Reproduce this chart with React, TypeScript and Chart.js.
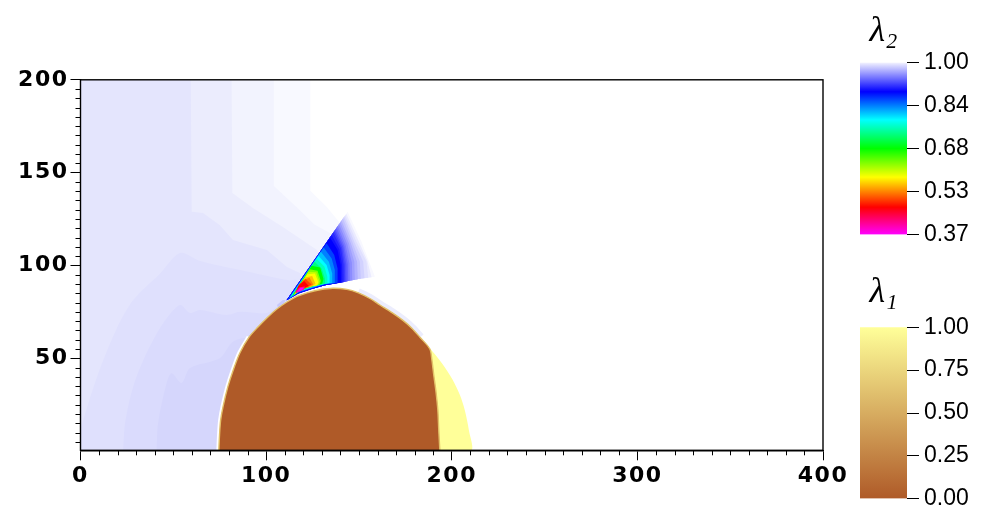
import React, { useEffect, useRef } from "react";
import { Chart, registerables } from "chart.js";

Chart.register(...registerables);

type P = [number, number];

const xMajorTicks = [0, 100, 200, 300, 400];
const xMinorTicks = [10, 20, 30, 40, 50, 60, 70, 80, 90, 110, 120, 130, 140, 150, 160, 170, 180, 190, 210, 220, 230, 240, 250, 260, 270, 280, 290, 310, 320, 330, 340, 350, 360, 370, 380, 390];
const yMajorTicks = [50, 100, 150, 200];
const yMinorTicks = [5, 10, 15, 20, 25, 30, 35, 40, 45, 55, 60, 65, 70, 75, 80, 85, 90, 95, 105, 110, 115, 120, 125, 130, 135, 140, 145, 155, 160, 165, 170, 175, 180, 185, 190, 195];

const bandA: P[] = [[0, 200], [123.8, 200], [123.8, 140.2], [132.6, 131.6], [139.8, 122.8], [132, 100], [130, 86], [100, 70], [74, 0], [0, 0]];
const bandB: P[] = [[0, 200], [104.2, 200], [104.2, 142.8], [118.2, 129.8], [126, 122], [137, 116], [130, 95], [100, 70], [74, 0], [0, 0]];
const bandC: P[] = [[0, 200], [81.4, 200], [81.8, 139], [92.9, 130.9], [109, 120.7], [127.4, 108.3], [131, 104], [125, 90], [100, 70], [74, 0], [0, 0]];
const bandD: P[] = [[0, 200], [59.4, 200], [59.9, 128.9], [66, 128.2], [75.1, 121.7], [82.1, 113.7], [100.4, 108.3], [111.2, 99.1], [118.2, 95.9], [120, 88], [100, 70], [74, 0], [0, 0]];
const bandE: P[] = [[0, 12], [8.7, 39.4], [19.5, 66], [28.3, 81.2], [43, 95.8], [53.6, 106.7], [64.4, 102.4], [86, 97.5], [112, 92], [117, 92], [118, 86], [100, 70], [74, 0], [0, 0]];
const bandF: P[] = [[23, 0], [24, 15], [28.4, 34.7], [35.6, 52.8], [44.6, 69], [53.6, 78.7], [59, 74.4], [64.4, 76], [78.7, 73.3], [86, 75], [100.3, 74.4], [109, 79.8], [112, 78], [100, 68], [74, 0]];
const bandG: P[] = [[41, 0], [41.8, 15], [46.4, 36.7], [49.1, 42], [54.5, 36.7], [59, 44.7], [75, 50], [82.1, 58.9], [90, 60], [76, 0]];
const apexTint: P[] = [[105.8, 78.7], [109, 81.4], [110.6, 81.4], [109.5, 79.2], [106.8, 76.5]];
const bandColors = ["#F8F9FF", "#F2F3FE", "#EBECFD", "#E4E5FD", "#DFE0FD", "#DADBFD", "#D5D6FC", "#C8C8FC"];

const bodyOutline: P[] = [[74.5, 0], [74.9, 8.7], [75.5, 16.7], [76.8, 24], [79.4, 34.7], [82.3, 43.7], [85.9, 53], [90.8, 61.4], [95.6, 66.8], [100.4, 71.7], [105.8, 76.5], [111.2, 80.3], [116.6, 83.3], [122.5, 85.4], [129, 86.9], [136, 87.7], [143.5, 87.1], [149.4, 85.4], [155.9, 82.2], [161.3, 78.7], [167.8, 74.6], [173.7, 70.4], [178.5, 66.2], [183, 61.2], [188.2, 55], [189.3, 49.1], [190.3, 41], [191.4, 32.9], [192.5, 22.1], [193, 11.4], [193.6, 0]];
const capOutline: P[] = [[188.2, 55.5], [194.7, 47.3], [200.4, 38.6], [204.4, 30.2], [207, 22.1], [209.2, 11.4], [210.3, 0], [190, 0], [189, 45]];
const whiteHalo: P[] = [[74.5, 0], [74.9, 8.7], [75.5, 16.7], [76.8, 24], [79.4, 34.7], [82.3, 43.7], [85.9, 53], [90.8, 61.4]];
const tintHalo: P[] = [[149.4, 85.4], [155.9, 82.2], [161.3, 78.7], [167.8, 74.6], [173.7, 70.4], [178.5, 66.2], [183, 61.2]];

const fanChain0: P[] = [[149.6, 92.7], [140.6, 90.9], [131.7, 89.4], [124.5, 87.3], [117.3, 84.9], [111, 81.3]];
const fanChain1: P[] = [[140.6, 90.9], [131.7, 89.4], [124.5, 87.3], [117.3, 84.9], [111, 81.3]];
const fanChain2: P[] = [[131.7, 89.4], [124.5, 87.3], [117.3, 84.9], [111, 81.3]];
const fan01: P[] = [[143.9, 128.9], [151.4, 112.8], [155, 103.4], [158.6, 93.9], ...fanChain0];
const fan01b: P[] = [[143.2, 127.9], [150, 112.8], [154.5, 102.7], [156.8, 93.7], ...fanChain0];
const fan02: P[] = [[142.6, 127.1], [148.7, 112.8], [154.1, 102], [155, 93.4], ...fanChain0];
const fan02b: P[] = [[142, 126.2], [147.5, 112.8], [152.3, 102], [153, 93.2], ...fanChain0];
const fan03: P[] = [[141.4, 125.3], [146.4, 112.8], [150.5, 102], [151, 92.9], ...fanChain0];
const fan03b: P[] = [[140.6, 124.2], [145.5, 112.3], [149, 102], [149.4, 92.6], ...fanChain1];
const fan04: P[] = [[140, 123.2], [144.6, 111.9], [147.5, 102], [147.8, 92.3], ...fanChain1];
const fan04b: P[] = [[139.3, 122.2], [143.7, 111.5], [146.2, 101.5], [146.4, 92.1], ...fanChain1];
const fan05: P[] = [[138.6, 121.2], [142.8, 111], [144.9, 101.1], [145.1, 91.8], ...fanChain1];
const fan05b: P[] = [[138, 120.3], [142.1, 110.5], [144, 100.6], [144.2, 91.6], ...fanChain1];
const fan06: P[] = [[137.3, 119.4], [141.5, 110.1], [143.2, 100.2], [143.3, 91.4], ...fanChain1];
const fan06b: P[] = [[136.8, 118.6], [140.9, 109.6], [142.4, 100.2], [142.6, 91.2], ...fanChain1];
const fan07: P[] = [[136.2, 117.8], [140.3, 109.2], [141.7, 100.2], [141.9, 91], ...fanChain2];
const fan07b: P[] = [[135.3, 116.4], [139.4, 108.7], [140.9, 100.2], [141.1, 90.9], ...fanChain2];
const fan08: P[] = [[134.4, 115.1], [138.5, 108.3], [140.1, 100.2], [140.3, 90.8], ...fanChain2];
const fan09: P[] = [[132.6, 111.9], [136.7, 105.6], [138.5, 98.4], [138.5, 90.7], [131.7, 89.8], [124.5, 87.6], [117.3, 85.3], [111.6, 81.7]];
const fan10: P[] = [[131, 109.7], [135.3, 103.8], [137, 97.5], [137, 90.5], [131.7, 90], [124.5, 87.8], [117.3, 85.5], [112.1, 82.1]];
const fan11: P[] = [[129.5, 107.4], [133.8, 102], [135.6, 95.7], [135.6, 90.5], [131.7, 90.1], [124.5, 88], [117.7, 85.8], [112.6, 82.4]];
const fan12: P[] = [[128.2, 105.2], [132.6, 100.2], [134.2, 94.8], [134.2, 90.5], [131.7, 90.2], [124.5, 88.3], [117.7, 86.2], [113.2, 83]];
const fan12b: P[] = [[127.3, 103.5], [131.4, 99.5], [133, 93.9], [133, 90.4], [124.5, 88.4], [118, 86.4], [113.5, 83.2]];
const fan13: P[] = [[126.1, 102], [129.9, 98.4], [131.7, 93], [131.7, 90.3], [124.5, 88.5], [118.2, 86.5], [113.7, 83.3]];
const fan14: P[] = [[124.5, 99.8], [129.1, 98.9], [130.9, 92.7], [130.2, 90.1], [124.5, 88.7], [118.2, 86.7], [114.2, 83.7]];
const fan15: P[] = [[123.4, 97.9], [127.7, 97.1], [129.5, 91.6], [128.8, 89.8], [124.5, 88.9], [118.7, 87.1], [114.8, 84]];
const fan15b: P[] = [[122.8, 96.6], [127, 96.4], [128.8, 91.3], [128, 89.5], [123.5, 88.8], [118.7, 87.2], [115, 84.2]];
const fan16: P[] = [[122.2, 95.3], [126.3, 95.7], [128.1, 90.9], [127.4, 89.2], [122.7, 88.7], [118.7, 87.3], [115.3, 84.4]];
const fan17: P[] = [[121.1, 93.5], [124.8, 94.3], [126.6, 90.1], [124.8, 88.7], [118.7, 87.4], [115.5, 84.8]];
const fan18: P[] = [[120, 92.1], [123.4, 93.4], [125.4, 89.8], [122.3, 88], [118.7, 87.6], [115.7, 85]];
const fan19: P[] = [[117.7, 89.8], [121.3, 92.7], [124.5, 89.8], [120.5, 87.4], [115.9, 85.1]];
const fan20: P[] = [[117.3, 88.9], [120.5, 91.6], [123, 88.9], [119.1, 87.3], [115.9, 85.3]];
const fan21: P[] = [[115.5, 85.5], [118, 88.3], [120.9, 88.7], [120.2, 86.9], [116.9, 85.5]];
const fan22: P[] = [[116.6, 86], [118.4, 87.8], [120.2, 88], [119.5, 86.9], [117.3, 85.8]];
const fanContours = [fan01, fan01b, fan02, fan02b, fan03, fan03b, fan04, fan04b, fan05, fan05b, fan06, fan06b, fan07, fan07b, fan08, fan09, fan10, fan11, fan12, fan12b, fan13, fan14, fan15, fan15b, fan16, fan17, fan18, fan19, fan20, fan21, fan22];
const fanColors = ["#F8F8FF", "#EBEBFF", "#E0E0FF", "#D2D2FF", "#C4C4FF", "#B2B2FF", "#A0A0FF", "#8C8CFF", "#7878FF", "#6464FF", "#5050FF", "#3C3CFF", "#2828FF", "#1414FF", "#0000FF", "#0040FF", "#0080FF", "#00C0FF", "#00FFFF", "#00FFC0", "#00FF80", "#00FF00", "#80FF00", "#C0FF00", "#FFFF00", "#FFC000", "#FF8000", "#FF4000", "#FF0000", "#FF00A0", "#FF00FF"];

const lambda2Ticks = [1.0, 0.8425, 0.685, 0.5275, 0.37];
const lambda2Labels = ["1.00", "0.84", "0.68", "0.53", "0.37"];
const lambda2Stops = [1.0, 0.893, 0.79, 0.685, 0.58, 0.47, 0.37];
const lambda2Colors = ["#F2F2FF", "#0000FF", "#00FFFF", "#00FF00", "#FFFF00", "#FF0000", "#FF00FF"];
const lambda1Ticks = [1.0, 0.75, 0.5, 0.25, 0.0];
const lambda1Labels = ["1.00", "0.75", "0.50", "0.25", "0.00"];
const lambda1Stops = [1.0, 0.0];
const lambda1Colors = ["#FFFF99", "#AF5A28"];

const poly = (pts: P[], color: string, extra: object = {}) => ({
  data: pts.map(([x, y]) => ({ x, y })),
  showLine: true,
  fill: "shape",
  backgroundColor: color,
  borderColor: color,
  borderWidth: 0,
  pointRadius: 0,
  tension: 0,
  ...extra,
});
const stroke = (pts: P[], color: string, width: number) => ({
  data: pts.map(([x, y]) => ({ x, y })),
  showLine: true,
  fill: false,
  borderColor: color,
  borderWidth: width,
  pointRadius: 0,
  tension: 0.3,
});

const axisDecor = {
  id: "axisDecor",
  beforeDraw(chart: any) {
    chart.ctx.letterSpacing = "1.5px";
  },
  afterDraw(chart: any) {
    const { ctx, chartArea: a, scales } = chart;
    ctx.save();
    ctx.strokeStyle = "#000";
    ctx.lineWidth = 1;
    ctx.beginPath();
    for (const v of xMinorTicks) {
      const px = Math.round(scales.x.getPixelForValue(v)) + 0.5;
      ctx.moveTo(px, a.bottom);
      ctx.lineTo(px, a.bottom + 5);
    }
    for (const v of yMinorTicks) {
      const py = Math.round(scales.y.getPixelForValue(v)) + 0.5;
      ctx.moveTo(a.left, py);
      ctx.lineTo(a.left - 5, py);
    }
    ctx.stroke();
    ctx.lineWidth = 1.4;
    ctx.strokeRect(a.left, a.top, a.right - a.left, a.bottom - a.top);
    ctx.restore();
  },
};

function makeMain(canvas: HTMLCanvasElement) {
  const smooth = { tension: 0.3 };
  const layers = [
    poly(bandA, bandColors[0]),
    poly(bandB, bandColors[1]),
    poly(bandC, bandColors[2]),
    poly(bandD, bandColors[3]),
    poly(bandE, bandColors[4], smooth),
    poly(bandF, bandColors[5], smooth),
    poly(bandG, bandColors[6], smooth),
    stroke(whiteHalo, "#FFFFFF", 5),
    stroke(tintHalo, "#ECEDFD", 9),
    poly(apexTint, bandColors[7]),
    ...fanContours.map((c, i) => poly(c, fanColors[i])),
    poly(capOutline, "#FFFF99", smooth),
    poly(bodyOutline, "#AF5A28", { borderColor: "#E2C068", borderWidth: 1.4, tension: 0.3 }),
  ];
  const datasets = layers.map((d, i) => ({ ...d, order: layers.length - i }));
  return new Chart(canvas, {
    type: "scatter",
    data: { datasets } as any,
    plugins: [axisDecor],
    options: {
      responsive: false,
      animation: false,
      layout: { padding: { left: 0, top: 79.8, right: 32, bottom: 0 } },
      plugins: { legend: { display: false }, tooltip: { enabled: false } },
      scales: {
        x: {
          type: "linear",
          min: 0,
          max: 400,
          afterFit: (s: any) => { s.height = 61.7; s.paddingLeft = 0; s.paddingRight = 0; },
          afterBuildTicks: (s: any) => { s.ticks = xMajorTicks.map((value) => ({ value })); },
          grid: { drawOnChartArea: false, tickLength: 10, tickColor: "#000", tickWidth: 1 },
          border: { color: "#000", width: 1.4 },
          ticks: { color: "#000", padding: 3, maxRotation: 0, autoSkip: false, font: { family: "DejaVu Sans", weight: "bold", size: 22 }, callback: (v: any) => String(v) },
        },
        y: {
          type: "linear",
          min: 0.43,
          max: 200,
          afterFit: (s: any) => { s.width = 80.5; s.paddingTop = 0; s.paddingBottom = 0; },
          afterBuildTicks: (s: any) => { s.ticks = yMajorTicks.map((value) => ({ value })); },
          grid: { drawOnChartArea: false, tickLength: 10, tickColor: "#000", tickWidth: 1 },
          border: { color: "#000", width: 1.4 },
          ticks: { color: "#000", padding: 2, autoSkip: false, font: { family: "DejaVu Sans", weight: "bold", size: 22 }, callback: (v: any) => String(v) },
        },
      },
    } as any,
  });
}

function makeBar(canvas: HTMLCanvasElement, title: string, ticks: number[], labels: string[], stops: number[], colors: string[], titleTop: number, titleBottom: number, bottomPad: number) {
  const lo = ticks[ticks.length - 1];
  const hi = ticks[0];
  return new Chart(canvas, {
    type: "bar",
    data: {
      labels: [title],
      datasets: [{
        data: [[lo, hi]],
        borderWidth: 0,
        barPercentage: 1,
        categoryPercentage: 1,
        backgroundColor: (c: any) => {
          const { chart } = c;
          if (!chart.chartArea) return colors[0];
          const y = chart.scales.y;
          const g = chart.ctx.createLinearGradient(0, y.getPixelForValue(hi), 0, y.getPixelForValue(lo));
          stops.forEach((s, i) => g.addColorStop((hi - s) / (hi - lo), colors[i]));
          return g;
        },
      }],
    } as any,
    options: {
      responsive: false,
      animation: false,
      layout: { padding: { left: 10, top: 0, right: 0, bottom: bottomPad } },
      plugins: {
        legend: { display: false },
        tooltip: { enabled: false },
        title: {
          display: true,
          text: title,
          fullSize: false,
          color: "#000",
          font: { family: "Liberation Serif", style: "italic", weight: "normal", size: 36, lineHeight: 1 },
          padding: { top: titleTop, bottom: titleBottom },
        },
      },
      scales: {
        x: { display: false },
        y: {
          type: "linear",
          position: "right",
          min: lo,
          max: hi,
          afterFit: (s: any) => { s.width = 96; s.paddingTop = 0; s.paddingBottom = 0; },
          afterBuildTicks: (s: any) => { s.ticks = ticks.map((value) => ({ value })); },
          grid: { drawOnChartArea: false, tickLength: 12, tickColor: "#000", tickWidth: 1 },
          border: { display: false },
          ticks: { color: "#000", padding: 5, autoSkip: false, font: { family: "Liberation Sans", size: 23 }, callback: (_v: any, i: number) => labels[i] },
        },
      },
    } as any,
  });
}

export default function App() {
  const mainRef = useRef<HTMLCanvasElement>(null);
  const l2Ref = useRef<HTMLCanvasElement>(null);
  const l1Ref = useRef<HTMLCanvasElement>(null);
  useEffect(() => {
    document.body.style.background = "#fff";
    const charts = [
      makeMain(mainRef.current!),
      makeBar(l2Ref.current!, "λ₂", lambda2Ticks, lambda2Labels, lambda2Stops, lambda2Colors, 14, 12.5, 15.5),
      makeBar(l1Ref.current!, "λ₁", lambda1Ticks, lambda1Labels, lambda1Stops, lambda1Colors, 5, 16.3, 13.3),
    ];
    return () => charts.forEach((c) => c.destroy());
  }, []);
  const abs = (left: number, top: number): React.CSSProperties => ({ position: "absolute", left, top, display: "block" });
  return (
    <div style={{ position: "absolute", left: 0, top: 0, width: 1003, height: 512, overflow: "hidden", background: "#fff" }}>
      <canvas ref={mainRef} width={855} height={512} style={abs(0, 0)} />
      <canvas ref={l2Ref} width={153} height={250} style={abs(850, 0)} />
      <canvas ref={l1Ref} width={153} height={242} style={abs(850, 270)} />
    </div>
  );
}
